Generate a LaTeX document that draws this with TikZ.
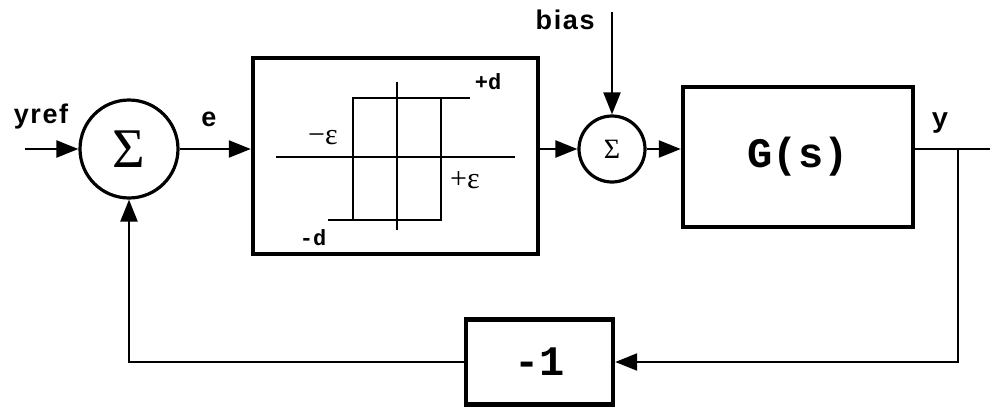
\documentclass[tikz,border=0pt]{standalone}
\usepackage{fontspec}
\setmainfont{Liberation Serif}
\newfontfamily\labelfont[LetterSpace=6]{Liberation Sans}
\newfontfamily\codefont{Liberation Mono}
\usetikzlibrary{arrows.meta,positioning,calc}

\begin{document}
\begin{tikzpicture}[x=0.5pt, y=-0.5pt,
   sumnode/.style={draw, circle, line width=1.6pt, inner sep=0pt},
   block/.style={draw, line width=2.2pt, inner sep=0pt,
                 font=\codefont\bfseries\fontsize{21}{24}\selectfont},
   sig/.style={font=\labelfont\bfseries\fontsize{13.5}{15}\selectfont, inner sep=1pt},
   wire/.style={line width=1.1pt},
   curve/.style={line width=1.3pt},
   lim/.style={font=\codefont\bfseries\fontsize{11}{12}\selectfont, inner sep=0pt},
   eps/.style={font=\fontsize{15}{16}\selectfont, inner sep=0pt},
   >={Triangle[length=11pt,width=8.5pt]}]
\useasboundingbox (0,0) rectangle (990,407);
% blocks and summing junctions
\node[sumnode, minimum size=49pt, font=\fontsize{28}{30}\selectfont] (sum1) at (129,149) {Σ};
\node[block, minimum width=142.5pt, minimum height=98pt] (hyst) at (395.5,156) {};
\node[sumnode, minimum size=33pt, font=\fontsize{14}{16}\selectfont] (sum2) at (612,149) {Σ};
\node[block, minimum width=115pt, minimum height=70pt] (plant) at (798,157) {G(s)};
\node[block, minimum width=73.5pt, minimum height=42.5pt] (gain) at (539.5,362) {-1};
% free ends
\coordinate (yin) at (25,149);
\coordinate (biasin) at (612,12);
\coordinate (yout) at (990,149);
\coordinate (branch) at (958,149);
% signals
\draw[wire,->] (yin) -- (sum1);
\draw[wire,->] (sum1) -- (sum1 -| hyst.west);
\draw[wire,->] (sum1 -| hyst.east) -- (sum2);
\draw[wire,->] (sum2) -- (sum2 -| plant.west);
\draw[wire] (sum2 -| plant.east) -- (yout);
\draw[wire,->] (biasin) -- (sum2);
\draw[wire,->] (branch) |- (gain);
\draw[wire,->] (gain) -| (sum1);
\node[sig] (yreflabel) at (41,117) {yref};
\node[sig] (elabel) at (209,119) {e};
\node[sig, anchor=east] (biaslabel) at (597,20) {bias};
\node[font=\codefont\bfseries\fontsize{14}{15}\selectfont] (ylabel) at (940,123) {y};
% relay with hysteresis
\draw[curve] (276,157) -- (515,157);
\draw[curve] (397,82) -- (397,230);
\draw[curve] (328,220) -- (441,220) -- (441,98);
\draw[curve] (470,98) -- (353,98) -- (353,220);
\node[lim] (dplus) at (488,82) {+d};
\node[lim] (dminus) at (313,238) {-d};
\node[eps] (epsminus) at (323,138) {−ε};
\node[eps] (epsplus) at (465,180) {+ε};
\end{tikzpicture}
\end{document}
